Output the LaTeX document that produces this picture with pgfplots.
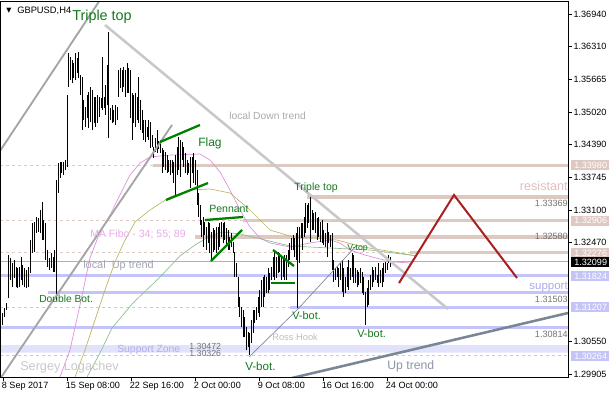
\documentclass[border=0pt]{standalone}
\usepackage{fontspec}
\setmainfont{Liberation Sans}
\newfontfamily\dejavu{DejaVu Sans}
\usepackage{pgfplots}
\usepackage{pgfplotstable}
\pgfplotsset{compat=1.18}

\definecolor{rosy}{RGB}{222,200,194}
\definecolor{lav}{RGB}{196,196,248}
\definecolor{zone}{RGB}{226,226,252}
\definecolor{curgray}{RGB}{176,176,176}
\definecolor{trendgray}{RGB}{200,200,200}
\definecolor{chgray}{RGB}{165,165,165}
\definecolor{slate}{RGB}{120,134,150}
\definecolor{mapink}{RGB}{222,140,222}
\definecolor{makhaki}{RGB}{190,180,100}
\definecolor{magreen}{RGB}{140,190,140}
\definecolor{patgreen}{RGB}{0,128,0}
\definecolor{txtgreen}{RGB}{20,120,30}
\definecolor{redpath}{RGB}{170,30,30}
\definecolor{lbl}{RGB}{115,115,115}
\newcommand{\fs}[1]{\fontsize{#1}{#1}\selectfont}

\pgfplotstableread{
x lo hi
2 1.3086 1.3110
4 1.3102 1.3119
6 1.3116 1.3129
8 1.3139 1.3223
10 1.3174 1.3217
12 1.3160 1.3207
14 1.3178 1.3213
16 1.3160 1.3200
17.5 1.3158 1.3198
19 1.3160 1.3200
21 1.3174 1.3219
22.5 1.3164 1.3204
24 1.3160 1.3198
26 1.3158 1.3194
28 1.3160 1.3200
30 1.3188 1.3252
32 1.3227 1.3286
34 1.3229 1.3288
36 1.3266 1.3297
38 1.3268 1.3295
40 1.3266 1.3311
42 1.3252 1.3327
43.5 1.3252 1.3292
45 1.3213 1.3286
47 1.3200 1.3233
49 1.3194 1.3217
51 1.3198 1.3227
53 1.3190 1.3219
54.5 1.3190 1.3233
56 1.3135 1.3370
58 1.3344 1.3403
60 1.3374 1.3405
61.5 1.3383 1.3405
63 1.3379 1.3405
65 1.3389 1.3409
67 1.3395 1.3536
68.5 1.3551 1.3618
70 1.3565 1.3610
72 1.3559 1.3604
73.5 1.3569 1.3598
75 1.3565 1.3618
77 1.3579 1.3608
78.5 1.3569 1.3620
80 1.3536 1.3575
82 1.3467 1.3571
83.5 1.3487 1.3526
85 1.3473 1.3512
87 1.3491 1.3536
88.5 1.3471 1.3542
90 1.3483 1.3551
92 1.3467 1.3546
94 1.3481 1.3532
95.5 1.3473 1.3532
97 1.3481 1.3536
99 1.3493 1.3532
101 1.3510 1.3530
102.5 1.3507 1.3610
104 1.3510 1.3532
105.5 1.3497 1.3555
107 1.3516 1.3594
108.5 1.3452 1.3659
110 1.3487 1.3510
112 1.3481 1.3516
113.5 1.3483 1.3507
115 1.3477 1.3516
117 1.3487 1.3512
118.5 1.3532 1.3585
120 1.3549 1.3588
122 1.3542 1.3585
123.5 1.3551 1.3590
125 1.3532 1.3585
127 1.3540 1.3598
128.5 1.3540 1.3588
130 1.3491 1.3585
132 1.3448 1.3540
133.5 1.3481 1.3536
135 1.3473 1.3540
137 1.3487 1.3532
138.5 1.3481 1.3571
140 1.3467 1.3526
142 1.3461 1.3507
143.5 1.3448 1.3487
145 1.3444 1.3487
147 1.3454 1.3473
148.5 1.3448 1.3487
150 1.3432 1.3483
152 1.3434 1.3458
153.5 1.3413 1.3434
155 1.3424 1.3452
157 1.3422 1.3467
158.5 1.3430 1.3446
160 1.3422 1.3448
162 1.3383 1.3432
163.5 1.3395 1.3428
165 1.3389 1.3424
167 1.3383 1.3418
168.5 1.3385 1.3409
170 1.3379 1.3409
172 1.3383 1.3409
173.5 1.3364 1.3405
175 1.3340 1.3418
177 1.3379 1.3434
178.5 1.3389 1.3454
180 1.3376 1.3448
182 1.3409 1.3444
183.5 1.3395 1.3434
185 1.3383 1.3422
187 1.3379 1.3409
188.5 1.3383 1.3403
190 1.3354 1.3414
192 1.3383 1.3414
193.5 1.3364 1.3422
195 1.3360 1.3409
197 1.3321 1.3389
198.5 1.3297 1.3344
200 1.3282 1.3321
201.5 1.3258 1.3292
203 1.3239 1.3297
204.5 1.3262 1.3288
206 1.3233 1.3278
208 1.3246 1.3288
209.5 1.3227 1.3286
211 1.3213 1.3268
213 1.3229 1.3276
214.5 1.3233 1.3272
216 1.3227 1.3278
218 1.3233 1.3278
219.5 1.3239 1.3286
221 1.3258 1.3288
223 1.3246 1.3286
224.5 1.3252 1.3288
226 1.3243 1.3276
228 1.3233 1.3272
229.5 1.3233 1.3258
231 1.3239 1.3266
233 1.3227 1.3248
234.5 1.3180 1.3229
236 1.3180 1.3207
238 1.3121 1.3180
239.5 1.3102 1.3141
241 1.3082 1.3121
243 1.3063 1.3116
244.5 1.3063 1.3102
246 1.3038 1.3082
248 1.3043 1.3073
249.5 1.3028 1.3071
251 1.3051 1.3096
253 1.3071 1.3116
254.5 1.3090 1.3116
256 1.3096 1.3121
258 1.3110 1.3141
259.5 1.3102 1.3155
261 1.3121 1.3174
263 1.3121 1.3180
264.5 1.3141 1.3184
266 1.3149 1.3180
268 1.3149 1.3198
269.5 1.3155 1.3188
271 1.3174 1.3200
273 1.3180 1.3219
274.5 1.3174 1.3229
276 1.3178 1.3219
278 1.3188 1.3229
279.5 1.3190 1.3227
281 1.3174 1.3219
283 1.3180 1.3219
284.5 1.3174 1.3223
286 1.3174 1.3223
288 1.3200 1.3233
289.5 1.3213 1.3246
291 1.3233 1.3256
293 1.3233 1.3262
294.5 1.3219 1.3256
296 1.3213 1.3266
297.5 1.3119 1.3278
299 1.3207 1.3278
301 1.3256 1.3286
302.5 1.3233 1.3286
304 1.3258 1.3297
305.5 1.3266 1.3325
307 1.3276 1.3321
308.5 1.3286 1.3325
310 1.3248 1.3340
312 1.3272 1.3311
313.5 1.3272 1.3305
315 1.3266 1.3307
317 1.3252 1.3295
318.5 1.3258 1.3297
320 1.3248 1.3288
322 1.3246 1.3292
323.5 1.3243 1.3272
325 1.3239 1.3266
327 1.3219 1.3286
328.5 1.3246 1.3268
330 1.3239 1.3262
332 1.3194 1.3266
333.5 1.3170 1.3213
335 1.3174 1.3198
337 1.3180 1.3200
338.5 1.3160 1.3198
340 1.3174 1.3207
342 1.3151 1.3213
343.5 1.3141 1.3198
345 1.3149 1.3180
347 1.3160 1.3200
348.5 1.3155 1.3213
350 1.3174 1.3198
352 1.3180 1.3227
353.5 1.3168 1.3223
355 1.3168 1.3198
357 1.3160 1.3194
358.5 1.3164 1.3190
360 1.3168 1.3198
362 1.3149 1.3190
363.5 1.3145 1.3180
365 1.3086 1.3151
367 1.3121 1.3158
368.5 1.3125 1.3174
370 1.3155 1.3184
372 1.3160 1.3200
373.5 1.3170 1.3194
375 1.3174 1.3200
377 1.3168 1.3184
378.5 1.3160 1.3207
380 1.3168 1.3194
382 1.3160 1.3198
383.5 1.3170 1.3207
385 1.3188 1.3209
387 1.3194 1.3207
388.5 1.3207 1.3223
390 1.3200 1.3219
}\bars

\begin{document}
\begin{tikzpicture}
\begin{axis}[
  at={(0,0)}, anchor=south west,
  scale only axis, width=426pt, height=282pt,
  xmin=0, xmax=568, ymin=1.2984742, ymax=1.3719446,
  axis on top,
  axis line style={black, line width=0.75pt},
  tick align=outside, major tick length=3pt,
  tick style={black, line width=0.75pt},
  xtick pos=bottom, ytick pos=right, yticklabel pos=right,
  xtick={3,67,131,195,259,323,387},
  xticklabels={8 Sep 2017, 15 Sep 08:00, 22 Sep 16:00, 2 Oct 00:00, 9 Oct 08:00, 16 Oct 16:00, 24 Oct 00:00},
  ytick={1.36940,1.36310,1.35665,1.35020,1.34390,1.33745,1.33100,1.32470,1.30550,1.29905},
  yticklabels={1.36940,1.36310,1.35665,1.35020,1.34390,1.33745,1.33100,1.32470,1.30550,1.29905},
  ticklabel style={font=\fs{6.8pt}, inner sep=0pt},
  xticklabel style={anchor=north west, xshift=-1pt, yshift=-1pt},
  yticklabel style={anchor=west, xshift=1pt},
  /pgf/number format/assume math mode=true,
]
% support zone
\addplot[forget plot, draw=none, fill=zone] coordinates {(0,1.30326) (568,1.30326) (568,1.30472) (0,1.30472) (0,1.30326)};
% resistance levels
\addplot[forget plot, rosy, line width=0.75pt, dash pattern=on 2.25pt off 2.25pt] coordinates {(0,1.33980) (568,1.33980)};
\addplot[forget plot, rosy, line width=2.6pt] coordinates {(153,1.33980) (568,1.33980)};
\addplot[forget plot, rosy, line width=2.6pt] coordinates {(307,1.33369) (568,1.33369)};
\addplot[forget plot, rosy, line width=0.75pt, dash pattern=on 2.25pt off 2.25pt] coordinates {(0,1.32906) (243,1.32906)};
\addplot[forget plot, rosy, line width=2.6pt] coordinates {(243,1.32906) (568,1.32906)};
\addplot[forget plot, rosy, line width=2.6pt] coordinates {(195,1.32580) (568,1.32580)};
\addplot[forget plot, rosy, line width=0.75pt, dash pattern=on 2.25pt off 2.25pt] coordinates {(0,1.32276) (410,1.32276)};
\addplot[forget plot, rosy, line width=2.6pt] coordinates {(410,1.32276) (568,1.32276)};
% current price
\addplot[forget plot, curgray, line width=0.75pt] coordinates {(0,1.32099) (568,1.32099)};
% support levels
\addplot[forget plot, lav, line width=2.2pt] coordinates {(0,1.31824) (568,1.31824)};
\addplot[forget plot, lav, line width=2.2pt] coordinates {(48,1.31503) (568,1.31503)};
\addplot[forget plot, lav, line width=0.75pt, dash pattern=on 2.25pt off 2.25pt] coordinates {(0,1.31207) (290,1.31207)};
\addplot[forget plot, lav, line width=2.2pt] coordinates {(290,1.31207) (568,1.31207)};
\addplot[forget plot, lav, line width=2.2pt] coordinates {(0,1.30814) (568,1.30814)};
\addplot[forget plot, lav, line width=0.75pt, dash pattern=on 2.25pt off 2.25pt] coordinates {(0,1.30264) (568,1.30264)};
% moving averages
\addplot[forget plot, mapink, line width=0.5pt] coordinates {(60,1.29847) (70,1.30375) (80,1.31254) (90,1.32173) (100,1.32681) (110,1.33013) (120,1.33404) (130,1.33795) (140,1.34029) (150,1.34146) (170,1.34185) (200,1.34205) (210,1.34088) (220,1.33853) (230,1.33501) (240,1.33111) (250,1.32778) (260,1.32563) (270,1.32466) (290,1.32388) (310,1.32466) (330,1.32524) (340,1.32466) (350,1.32329) (365,1.32231) (380,1.32153) (395,1.32095) (410,1.32075)};
\addplot[forget plot, makhaki, line width=0.5pt] coordinates {(75,1.29847) (85,1.30375) (95,1.30961) (105,1.31547) (115,1.32095) (125,1.32524) (135,1.32876) (150,1.33111) (170,1.33365) (190,1.33501) (210,1.33521) (230,1.33443) (250,1.33111) (270,1.32720) (293,1.32583) (317,1.32563) (337,1.32524) (363,1.32388) (400,1.32270) (417,1.32212)};
\addplot[forget plot, magreen, line width=0.5pt] coordinates {(87,1.29847) (100,1.30316) (112,1.30805) (133,1.31293) (160,1.31801) (180,1.32212) (195,1.32427) (210,1.32603) (223,1.32681) (240,1.32642) (257,1.32563) (290,1.32407) (330,1.32368) (370,1.32329) (410,1.32231) (417,1.32212)};
% price bars (high-low)
\addplot[forget plot, draw=none, no markers,
  error bars/.cd, y dir=plus, y explicit, error mark=none,
  error bar style={draw=black, line width=0.7pt}]
  table[x=x, y=lo, y error expr=\thisrow{hi}-\thisrow{lo}] {\bars};
% trend lines
\addplot[forget plot, trendgray, line width=1.9pt] coordinates {(105,1.36726) (448,1.31176)};
\addplot[forget plot, chgray, line width=1.4pt] coordinates {(0,1.34263) (100,1.37214)};
\addplot[forget plot, chgray, line width=1.4pt] coordinates {(0,1.29808) (172,1.34772)};
\addplot[forget plot, slate, line width=1.9pt] coordinates {(280,1.29773) (568,1.31098)};
\addplot[forget plot, slate, line width=0.5pt] coordinates {(249,1.30238) (297,1.31157) (356,1.32407)};
% pattern lines
\addplot[forget plot, patgreen, line width=1.7pt] coordinates {(160,1.34439) (200,1.34772)};
\addplot[forget plot, patgreen, line width=1.7pt] coordinates {(166,1.33306) (208,1.33638)};
\addplot[forget plot, patgreen, line width=1.7pt] coordinates {(205,1.32915) (243,1.32974)};
\addplot[forget plot, patgreen, line width=1.7pt] coordinates {(211,1.32114) (242,1.32720)};
\addplot[forget plot, patgreen, line width=1.7pt] coordinates {(273,1.32329) (294,1.32016)};
\addplot[forget plot, patgreen, line width=1.7pt] coordinates {(271,1.31684) (295,1.31684)};
% projected path
\addplot[forget plot, redpath, line width=1.5pt] coordinates {(399,1.31684) (454,1.33404) (517,1.31782)};
\end{axis}
\begin{scope}[x=0.75pt, y=-0.75pt, shift={(0,282.75pt)}]
% highlighted price labels
\foreach \py/\c/\t in {165.5/rosy/1.33980, 220.5/rosy/1.32906, 252.7/rosy/1.32276, 261.8/black/1.32099, 275.8/lav/1.31824, 307.4/lav/1.31207, 355.7/lav/1.30264}{
  \fill[\c] (571,\py-5) rectangle (609,\py+5);
  \node[anchor=base west, inner sep=0pt, text=white, font=\fs{6.8pt}] at (574,\py+3.3) {\t};
}
\node[anchor=base west, inner sep=0pt, font=\fs{7pt}] at (17,13.5) {GBPUSD,H4};
\node[inner sep=0pt, font=\dejavu\fs{5pt}] at (9,10.5) {▼};
\node[anchor=base west, inner sep=0pt, text=txtgreen, font=\fs{10.8pt}] at (72,21) {Triple top};
\node[anchor=base west, inner sep=0pt, text=txtgreen, font=\fs{9pt}] at (198,146.5) {Flag};
\node[anchor=base west, inner sep=0pt, text=txtgreen, font=\fs{7.9pt}] at (209,212.5) {Pennant};
\node[anchor=base west, inner sep=0pt, text=txtgreen, font=\fs{7.9pt}] at (294,190.5) {Triple top};
\node[anchor=base west, inner sep=0pt, text=txtgreen, font=\fs{6.6pt}] at (347,250.3) {V-top};
\node[anchor=base west, inner sep=0pt, text=txtgreen, font=\fs{7.7pt}] at (39,302.4) {Double Bot.};
\node[anchor=base west, inner sep=0pt, text=txtgreen, font=\fs{8.2pt}] at (292,319.5) {V-bot.};
\node[anchor=base west, inner sep=0pt, text=txtgreen, font=\fs{8.2pt}] at (357,337.5) {V-bot.};
\node[anchor=base west, inner sep=0pt, text=txtgreen, font=\fs{8.7pt}] at (245,370) {V-bot.};
\node[anchor=base west, inner sep=0pt, text={rgb,255:red,170;green,170;blue,175}, font=\fs{7.7pt}] at (229,119.2) {local Down trend};
\node[anchor=base west, inner sep=0pt, text={rgb,255:red,160;green,165;blue,180}, font=\fs{8.2pt}] at (83,268) {local\ \ Up trend};
\node[anchor=base west, inner sep=0pt, text={rgb,255:red,232;green,170;blue,232}, font=\fs{7.9pt}] at (90,237.7) {MA Fibo - 34; 55; 89};
\node[anchor=base west, inner sep=0pt, text={rgb,255:red,175;green,175;blue,235}, font=\fs{7.8pt}] at (117,352.8) {Support Zone};
\node[anchor=base west, inner sep=0pt, text=lbl, font=\fs{6.6pt}] at (189,349.3) {1.30472};
\node[anchor=base west, inner sep=0pt, text=lbl, font=\fs{6.6pt}] at (189,356.5) {1.30326};
\node[anchor=base west, inner sep=0pt, text={rgb,255:red,190;green,190;blue,190}, font=\fs{7pt}] at (272,340) {Ross Hook};
\node[anchor=base west, inner sep=0pt, text={rgb,255:red,200;green,200;blue,200}, font=\fs{9.5pt}] at (20,370.5) {Sergey Logachev};
\node[anchor=base west, inner sep=0pt, text={rgb,255:red,140;green,150;blue,170}, font=\fs{9.2pt}] at (387,369.5) {Up trend};
\node[anchor=base east, inner sep=0pt, text={rgb,255:red,225;green,190;blue,185}, font=\fs{9.5pt}] at (568,191) {resistant};
\node[anchor=base east, inner sep=0pt, text={rgb,255:red,170;green,170;blue,235}, font=\fs{8.6pt}] at (568,289.5) {support};
\node[anchor=base east, inner sep=0pt, text=lbl, font=\fs{6.8pt}] at (568,206.5) {1.33369};
\node[anchor=base east, inner sep=0pt, text=lbl, font=\fs{6.8pt}] at (568,239.3) {1.32580};
\node[anchor=base east, inner sep=0pt, text=lbl, font=\fs{6.8pt}] at (568,302.7) {1.31503};
\node[anchor=base east, inner sep=0pt, text=lbl, font=\fs{6.8pt}] at (568,337.3) {1.30814};
\pgfresetboundingbox
\path[use as bounding box] (0,0) rectangle (610,400);
\end{scope}
\end{tikzpicture}
\end{document}
